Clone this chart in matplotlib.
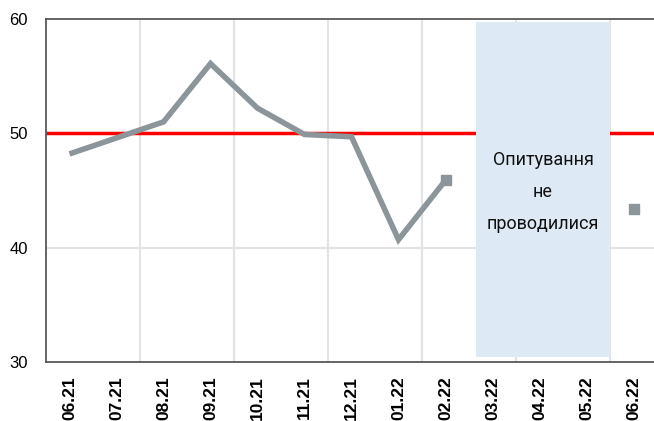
import numpy as np
import matplotlib
matplotlib.use("Agg")
from matplotlib import pyplot as plt

months = ["06.21", "07.21", "08.21", "09.21", "10.21", "11.21", "12.21",
          "01.22", "02.22", "03.22", "04.22", "05.22", "06.22"]
values = [48.2, 49.6, 51.0, 56.1, 52.2, 49.9, 49.7, 40.7, 45.9,
          np.nan, np.nan, np.nan, 43.4]
line_months = months[:9]
marker_months = ["02.22", "06.22"]
no_survey = ["03.22", "04.22", "05.22"]
threshold = 50
y_ticks = [30, 40, 50, 60]
note = "Опитування\nне\nпроводилися"

grey = "#8C959A"
x = np.arange(len(months))
idx = {m: i for i, m in enumerate(months)}

fig = plt.figure(figsize=(6.54, 4.21), dpi=100)
ax = fig.add_axes([46 / 654, 59 / 421, 611 / 654, 343 / 421])

ax.set_xlim(-0.5, len(months) - 0.5)
ax.set_ylim(30, 60)

# vertical grid every two months, horizontal grid at ticks
for b in np.arange(1.5, len(months), 2):
    ax.axvline(b, color="#E3E3E3", lw=1.5, zorder=0)
for t in y_ticks[1:-1]:
    ax.axhline(t, color="#E3E3E3", lw=1.5, zorder=0)

ax.axhline(threshold, color="#FF0000", lw=2.5, zorder=1)

s0 = idx[no_survey[0]] - 0.35
s1 = idx[no_survey[-1]] + 0.5
ax.axvspan(s0, s1, ymin=0.015, ymax=0.992, color="#DDEAF6", lw=0, zorder=2)
ax.text((s0 + s1) / 2, 44.9, note, ha="center", va="center", fontsize=13,
        linespacing=2.0, color="#111111",
        family=["Liberation Sans Narrow", "Roboto"], zorder=3)

li = [idx[m] for m in line_months]
ax.plot(x[li], [values[i] for i in li], color=grey, lw=4, solid_capstyle="butt",
        solid_joinstyle="miter", zorder=4)
mi = [idx[m] for m in marker_months]
ax.plot(x[mi], [values[i] for i in mi], ls="none", marker="s", ms=7.5,
        color=grey, zorder=5)

ax.set_xticks(x)
ax.set_xticklabels(months, rotation=90, fontsize=12.5, fontweight="bold",
                   family=["Liberation Sans", "DejaVu Sans"])
ax.set_yticks(y_ticks)
ax.set_yticklabels([str(t) for t in y_ticks], fontsize=12,
                   family=["Liberation Sans", "DejaVu Sans"])
ax.tick_params(axis="x", length=0, pad=10)
ax.tick_params(axis="y", length=0, pad=13)

for side in ["left", "top", "bottom"]:
    ax.spines[side].set_color("#595959")
    ax.spines[side].set_linewidth(1.3)
ax.spines["right"].set_visible(False)

fig.savefig("out.png", dpi=100)
